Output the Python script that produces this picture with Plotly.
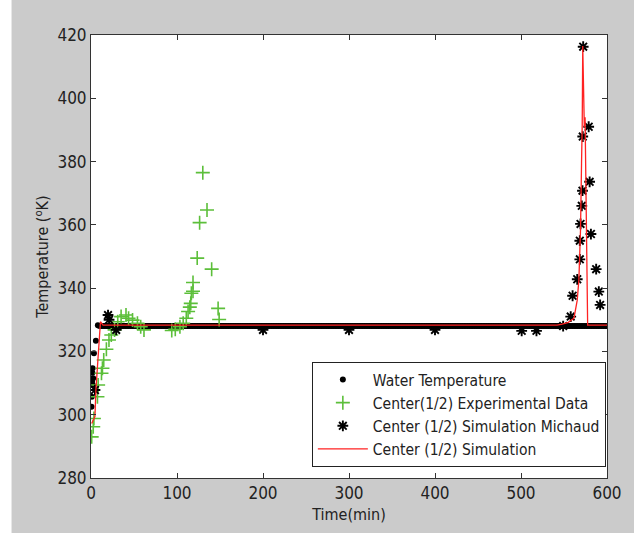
import plotly.graph_objects as go

# ---------------- data ----------------
water_t_start = [0.6, 0.9, 1.2, 2.0, 2.5, 1.5, 1.9, 3.4, 5.7, 8.0]
water_T_start = [302.5, 305.7, 310.4, 309.4, 311.5, 313.3, 314.7, 319.4, 323.4, 328.3]
water_t_plateau = list(range(10, 601, 2))
water_T_plateau = [328.0] * len(water_t_plateau)
water_t = water_t_start + water_t_plateau
water_T = water_T_start + water_T_plateau

exp_t = [0.8, 2.6, 3.4, 7.5, 8.3, 12.2, 13.3, 14.8, 17.9, 20.9, 23.6, 27.4, 31.1, 35.0,
         40.7, 43.7, 48.3, 54.0, 57.8, 61.6, 93.9, 98.0, 103.4, 107.2, 110.8, 112.9,
         114.9, 116.0, 116.7, 118.6, 118.6, 123.5, 126.3, 130.0, 134.9, 140.3, 147.8, 149.0]
exp_T = [293.0, 296.2, 298.8, 305.7, 309.4, 313.1, 314.7, 317.3, 320.7, 323.6, 325.2, 326.8,
         329.4, 331.0, 331.5, 330.5, 329.9, 328.9, 327.8, 326.8, 326.6, 327.0, 327.8, 328.9,
         330.5, 332.6, 334.0, 335.2, 338.4, 339.0, 341.8, 349.5, 360.7, 376.5, 364.7, 346.0,
         333.6, 330.1]

mich_t = [4.6, 19.8, 21.0, 29.3, 200, 300, 400, 500.8, 518, 549, 557.8, 560, 565.4,
          568.4, 568.4, 569.2, 570.7, 571.5, 571.8, 572.3, 578.7, 579.8, 581.3, 587.4,
          590.5, 592]
mich_T = [307.8, 331.5, 330.0, 326.8, 326.8, 326.8, 326.8, 326.5, 326.5, 328.0, 331.0,
          337.6, 342.8, 349.1, 355.0, 360.3, 366.0, 370.8, 387.9, 416.3, 391.0, 373.6,
          357.1, 346.0, 338.9, 334.7]

sim_t = [0.8, 4.6, 5.7, 8.3, 11.0, 14.0, 542, 548, 555, 561.6, 565.4, 567.3, 569.2,
         570.4, 571.2, 571.8, 572.8, 573.6, 574.5, 575.3, 576.1, 576.8, 577.5, 600]
sim_T = [297.2, 299.4, 307.8, 317.3, 329.4, 328.3, 328.3, 328.6, 329.2, 330.5, 336.2,
         342.6, 358.4, 379.5, 392.0, 416.5, 392.0, 391.0, 394.0, 370.0, 350.0, 330.0,
         328.3, 328.3]

x_ticks = [0, 100, 200, 300, 400, 500, 600]
y_ticks = [280, 300, 320, 340, 360, 380, 400, 420]

FONT = "DejaVu Sans Condensed, Liberation Sans, Arial"
TXT = "#222222"
GREEN = "#5cbf3a"

fig = go.Figure()
fig.add_trace(go.Scatter(x=water_t, y=water_T, mode="markers", name="Water Temperature",
                         marker=dict(symbol="circle", size=6, color="black", line=dict(width=0))))
fig.add_trace(go.Scatter(x=exp_t, y=exp_T, mode="markers", name="Center(1/2) Experimental Data",
                         marker=dict(symbol="cross-thin-open", size=10, color=GREEN,
                                     line=dict(width=1.6, color=GREEN))))
fig.add_trace(go.Scatter(x=mich_t, y=mich_T, mode="markers", name="Center (1/2) Simulation Michaud",
                         marker=dict(symbol="asterisk-open", size=9, color="black",
                                     line=dict(width=1.9, color="black"))))
fig.add_trace(go.Scatter(x=sim_t, y=sim_T, mode="lines", name="Center (1/2) Simulation",
                         line=dict(color="#ff2222", width=1.3)))

axis_common = dict(showline=True, linecolor="#333333", linewidth=1, mirror="allticks",
                   ticks="inside", ticklen=5, tickcolor="#333333", showgrid=False,
                   zeroline=False, tickfont=dict(family=FONT, size=17, color=TXT))

fig.update_xaxes(range=[0, 600], tickvals=x_ticks, **axis_common,
                 title=dict(text="Time(min)", font=dict(family=FONT, size=16, color=TXT), standoff=6))
fig.update_yaxes(range=[280, 420], tickvals=y_ticks, **axis_common,
                 title=dict(text="Temperature (<sup>o</sup>K)", font=dict(family=FONT, size=16, color=TXT),
                            standoff=4))

fig.update_layout(
    width=634, height=533,
    margin=dict(l=91, r=17, t=35, b=55),
    paper_bgcolor="#cbcbcb", plot_bgcolor="white",
    showlegend=True,
    legend=dict(x=0.428, y=0.262, xanchor="left", yanchor="top",
                bgcolor="white", bordercolor="#222222", borderwidth=1,
                font=dict(family=FONT, size=15.5, color=TXT),
                itemwidth=50, tracegroupgap=0),
    shapes=[dict(type="rect", xref="paper", yref="paper", x0=-0.2, x1=-0.154, y0=-0.2, y1=1.2,
                 fillcolor="white", line=dict(width=0), layer="below")],
)

fig.write_html("out.html")
